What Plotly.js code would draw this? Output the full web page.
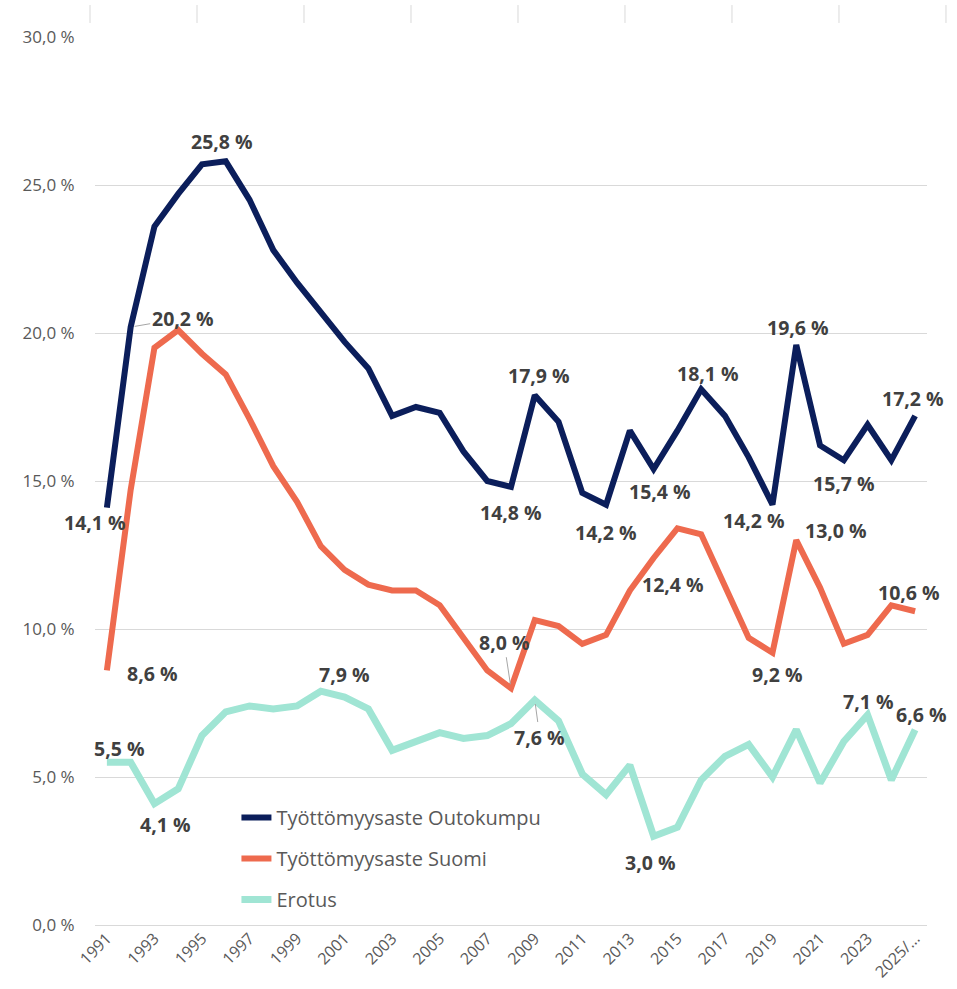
<!DOCTYPE html>
<html>
<head>
<meta charset="utf-8">
<script src="https://cdn.plot.ly/plotly-3.0.1.min.js"></script>
<style>
  html, body { margin: 0; padding: 0; background: #ffffff; }
  #chart { width: 957px; height: 989px; }
</style>
</head>
<body>
<div id="chart"></div>
<script>
// ---- Data ----
const years = ['1991','1992','1993','1994','1995','1996','1997','1998','1999','2000',
               '2001','2002','2003','2004','2005','2006','2007','2008','2009','2010',
               '2011','2012','2013','2014','2015','2016','2017','2018','2019','2020',
               '2021','2022','2023','2024','2025/…'];
const tickLabels = ['1991','1993','1995','1997','1999','2001','2003','2005','2007','2009',
                    '2011','2013','2015','2017','2019','2021','2023','2025/…'];
const yTickValues = [0, 5, 10, 15, 20, 25, 30];
const seriesNames = ['Työttömyysaste Outokumpu', 'Työttömyysaste Suomi', 'Erotus'];
const outokumpu = [14.1, 20.2, 23.6, 24.7, 25.7, 25.8, 24.5, 22.8, 21.7, 20.7,
                   19.7, 18.8, 17.2, 17.5, 17.3, 16.0, 15.0, 14.8, 17.9, 17.0,
                   14.6, 14.2, 16.7, 15.4, 16.7, 18.1, 17.2, 15.8, 14.2, 19.6,
                   16.2, 15.7, 16.9, 15.7, 17.2];
const suomi = [8.6, 14.7, 19.5, 20.1, 19.3, 18.6, 17.1, 15.5, 14.3, 12.8,
               12.0, 11.5, 11.3, 11.3, 10.8, 9.7, 8.6, 8.0, 10.3, 10.1,
               9.5, 9.8, 11.3, 12.4, 13.4, 13.2, 11.5, 9.7, 9.2, 13.0,
               11.4, 9.5, 9.8, 10.8, 10.6];
const erotus = [5.5, 5.5, 4.1, 4.6, 6.4, 7.2, 7.4, 7.3, 7.4, 7.9,
                7.7, 7.3, 5.9, 6.2, 6.5, 6.3, 6.4, 6.8, 7.6, 6.9,
                5.1, 4.4, 5.4, 3.0, 3.3, 4.9, 5.7, 6.1, 5.0, 6.6,
                4.8, 6.2, 7.1, 4.9, 6.6];

// Which points carry a data label (series index, year index)
const labelledPoints = [
  [0, 0], [0, 1], [0, 5], [0, 17], [0, 18], [0, 21], [0, 23], [0, 25], [0, 28], [0, 29], [0, 31], [0, 34],
  [1, 0], [1, 17], [1, 23], [1, 28], [1, 29], [1, 34],
  [2, 0], [2, 2], [2, 9], [2, 18], [2, 23], [2, 32], [2, 34]
];

// ---- Styling / placement (pixel offsets of labels from their points) ----
const labelOffsets = {
  '0-0': {dx: -12, dy: -15}, '0-1': {arrow: true, ax: 52, ay: -9},
  '0-5': {dx: -4, dy: 20}, '0-17': {dx: 0, dy: -26}, '0-18': {dx: 4, dy: 20},
  '0-21': {dx: 0, dy: -28}, '0-23': {dx: 6, dy: -22}, '0-25': {dx: 7, dy: 16},
  '0-28': {dx: -18, dy: -16}, '0-29': {dx: 2, dy: 17}, '0-31': {dx: 0, dy: -23},
  '0-34': {dx: -2, dy: 17},
  '1-0': {dx: 46, dy: -3}, '1-17': {arrow: true, ax: -7, ay: -46},
  '1-23': {dx: 19, dy: -27}, '1-28': {dx: 5, dy: -22}, '1-29': {dx: 40, dy: 10},
  '1-34': {dx: -6, dy: 19},
  '2-0': {dx: 13, dy: 14}, '2-2': {dx: 11, dy: -21}, '2-9': {dx: 24, dy: 17},
  '2-18': {arrow: true, ax: 5, ay: 37}, '2-23': {dx: -3, dy: -26},
  '2-32': {dx: 1, dy: 13}, '2-34': {dx: 6, dy: 15}
};

const colors = ['#0b1e5b', '#ee6a4e', '#a0e5d4'];
const widths = [6, 6, 7];
const seriesValues = [outokumpu, suomi, erotus];

const traces = seriesValues.map((vals, s) => ({
  type: 'scatter',
  mode: 'lines',
  x: years,
  y: vals,
  name: seriesNames[s],
  legendgroup: 'g' + s,
  line: {color: colors[s], width: widths[s]},
  hoverinfo: 'x+y+name'
}));

const fmt = v => v.toFixed(1).replace('.', ',') + ' %';
const labelFont = {family: 'Open Sans, Noto Sans, sans-serif', size: 19.5, color: '#404040', weight: 'bold'};

const annotations = labelledPoints.map(([s, i]) => {
  const o = labelOffsets[s + '-' + i] || {dx: 0, dy: 0};
  const base = {
    x: i, y: seriesValues[s][i], xref: 'x', yref: 'y',   // x given as category index
    text: '<b>' + fmt(seriesValues[s][i]) + '</b>',
    font: labelFont
  };
  if (o.arrow) {
    return Object.assign(base, {
      showarrow: true, arrowhead: 0, arrowwidth: 1, arrowcolor: '#a6a6a6',
      ax: o.ax, ay: o.ay, standoff: 4, startstandoff: 0
    });
  }
  return Object.assign(base, {showarrow: false, xshift: o.dx, yshift: o.dy});
});

// faint tick marks along the top edge of the image
const shapes = [];
for (let k = 0; k < 9; k++) {
  const xp = -0.006 + k * 0.1286;
  shapes.push({type: 'line', xref: 'paper', yref: 'paper', x0: xp, x1: xp, y0: 1.0158, y1: 1.036,
               line: {color: '#d9d9d9', width: 1}});
}

const layout = {
  width: 957,
  height: 989,
  margin: {l: 95, r: 30, t: 37, b: 64},
  paper_bgcolor: '#ffffff',
  plot_bgcolor: '#ffffff',
  showlegend: true,
  legend: {
    x: 0.170, xanchor: 'left', y: 0.143, yanchor: 'top',
    bgcolor: 'rgba(0,0,0,0)',
    font: {family: 'Open Sans, Noto Sans, sans-serif', size: 20, color: '#595959'},
    tracegroupgap: 12,
    itemwidth: 30
  },
  xaxis: {
    type: 'category',
    range: [-0.5, years.length - 0.5],
    tickmode: 'array',
    tickvals: years.map((_, i) => i).filter(i => i % 2 === 0),
    ticktext: tickLabels,
    tickangle: -45,
    tickfont: {family: 'Open Sans, Noto Sans, sans-serif', size: 16, color: '#595959'},
    showgrid: false,
    zeroline: false,
    showline: false,
    ticks: '', ticklen: 0
  },
  yaxis: {
    range: [0, 30],
    tickmode: 'array',
    tickvals: yTickValues,
    ticktext: yTickValues.map(fmt),
    tickfont: {family: 'Open Sans, Noto Sans, sans-serif', size: 17, color: '#595959'},
    showgrid: true,
    gridcolor: '#d9d9d9',
    gridwidth: 1,
    zeroline: true,
    zerolinecolor: '#d9d9d9',
    zerolinewidth: 1,
    showline: false,
    ticks: 'outside', ticklen: 16, tickcolor: 'rgba(0,0,0,0)'
  },
  annotations: annotations,
  shapes: shapes
};

Plotly.newPlot('chart', traces, layout, {displayModeBar: false, staticPlot: true});
</script>
</body>
</html>
